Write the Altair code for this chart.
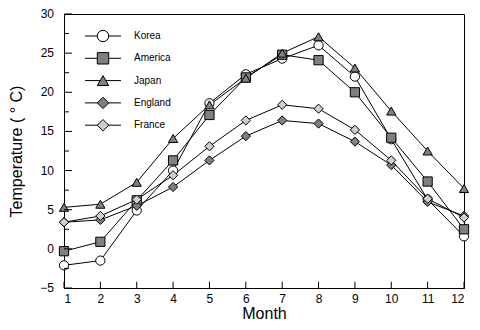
import altair as alt
import pandas as pd

months = list(range(1, 13))
series = ["Korea", "America", "Japan", "England", "France"]
korea   = [-2.1, -1.5, 4.9, 10.0, 18.6, 22.3, 24.3, 26.0, 22.0, 14.0, 6.3, 1.6]
america = [-0.3, 0.9, 6.2, 11.3, 17.1, 21.9, 24.8, 24.1, 20.0, 14.2, 8.6, 2.5]
japan   = [5.3, 5.7, 8.5, 14.1, 18.4, 21.8, 25.0, 27.1, 23.1, 17.6, 12.5, 7.7]
england = [3.4, 3.7, 5.5, 7.9, 11.3, 14.4, 16.4, 16.0, 13.7, 10.7, 6.0, 4.2]
france  = [3.4, 4.2, 6.3, 9.4, 13.1, 16.4, 18.4, 17.9, 15.2, 11.3, 6.4, 4.0]
values = [korea, america, japan, england, france]

shapes = ["circle", "square", "triangle-up", "diamond", "diamond"]
fills = ["white", "#808080", "#808080", "#808080", "#cfcfcf"]

y_major = [-5, 0, 5, 10, 15, 20, 25, 30]
y_minor = [-2.5, 2.5, 7.5, 12.5, 17.5, 22.5, 27.5]

rows = []
for s, vals in zip(series, values):
    for m, v in zip(months, vals):
        rows.append({"series": s, "month": m, "temp": v})
df = pd.DataFrame(rows)
legend_df = pd.DataFrame({"series": series, "rank": list(range(len(series)))})

FONT = "Liberation Sans"

xs = alt.Scale(domain=[1, 12], nice=False, zero=False)
ys = alt.Scale(domain=[-5, 30], nice=False, zero=False)
shape_scale = alt.Scale(domain=series, range=shapes)
fill_scale = alt.Scale(domain=series, range=fills)

xaxis = alt.Axis(title="Month", values=months, ticks=False, grid=False,
                 labelOverlap=False, labelFlush=True, labelPadding=5,
                 titlePadding=1, labelFontSize=12, titleFontSize=16,
                 titleFontWeight="normal")
yaxis = alt.Axis(title="Temperature ( ° C)", values=y_major, ticks=False,
                 labels=False, grid=False, titlePadding=40,
                 titleFontSize=16, titleFontWeight="normal")

X = alt.X("month:Q", scale=xs, axis=xaxis)
Y = alt.Y("temp:Q", scale=ys, axis=yaxis)

lines = alt.Chart(df).mark_line(color="black", strokeWidth=1).encode(
    x=X, y=Y, detail="series:N")
points = alt.Chart(df).mark_point(filled=True, stroke="black", strokeWidth=1,
                                  size=85, opacity=1).encode(
    x=X, y=Y,
    shape=alt.Shape("series:N", scale=shape_scale, legend=None),
    fill=alt.Fill("series:N", scale=fill_scale, legend=None))

ymaj = alt.Chart(pd.DataFrame({"temp": y_major})).mark_rule(color="black").encode(
    y=Y, x=alt.value(0), x2=alt.value(8))
ymin = alt.Chart(pd.DataFrame({"temp": y_minor})).mark_rule(color="black").encode(
    y=Y, x=alt.value(0), x2=alt.value(5))
ylab = alt.Chart(pd.DataFrame({"temp": y_major})).mark_text(
    align="right", baseline="middle", font=FONT, fontSize=12, color="black"
).encode(y=Y, x=alt.value(-10), text=alt.Text("temp:Q"))
xt = alt.Chart(pd.DataFrame({"month": months})).mark_rule(color="black").encode(
    x=X, y=alt.datum(-5), y2=alt.datum(-4.2))

LY = alt.Y("py:Q", scale=None, axis=None)
leg_base = alt.Chart(legend_df).transform_calculate(py="22 + datum.rank * 22.3")
leg_rule = leg_base.mark_rule(color="black", strokeWidth=1).encode(
    y=LY, x=alt.value(21), x2=alt.value(57))
leg_pts = leg_base.mark_point(filled=True, stroke="black", strokeWidth=1,
                              size=130, opacity=1).encode(
    y=LY, x=alt.value(39),
    shape=alt.Shape("series:N", scale=shape_scale, legend=None),
    fill=alt.Fill("series:N", scale=fill_scale, legend=None))
leg_txt = leg_base.mark_text(align="left", baseline="middle", font=FONT,
                             fontSize=10, color="black").encode(
    y=LY, x=alt.value(70), text="series:N")

chart = alt.layer(lines, points, ymaj, ymin, ylab, xt,
                  leg_rule, leg_pts, leg_txt
).properties(
    width=463, height=313, padding=0,
    autosize=alt.AutoSizeParams(type="fit", contains="padding")
).configure_view(
    stroke="black", strokeWidth=1
).configure_axis(
    labelFont=FONT, titleFont=FONT, labelColor="black", titleColor="black",
    domainColor="black", domainWidth=1, labelOverlap=False
)

chart.save("out.html", embed_options={"renderer": "svg", "actions": False})
